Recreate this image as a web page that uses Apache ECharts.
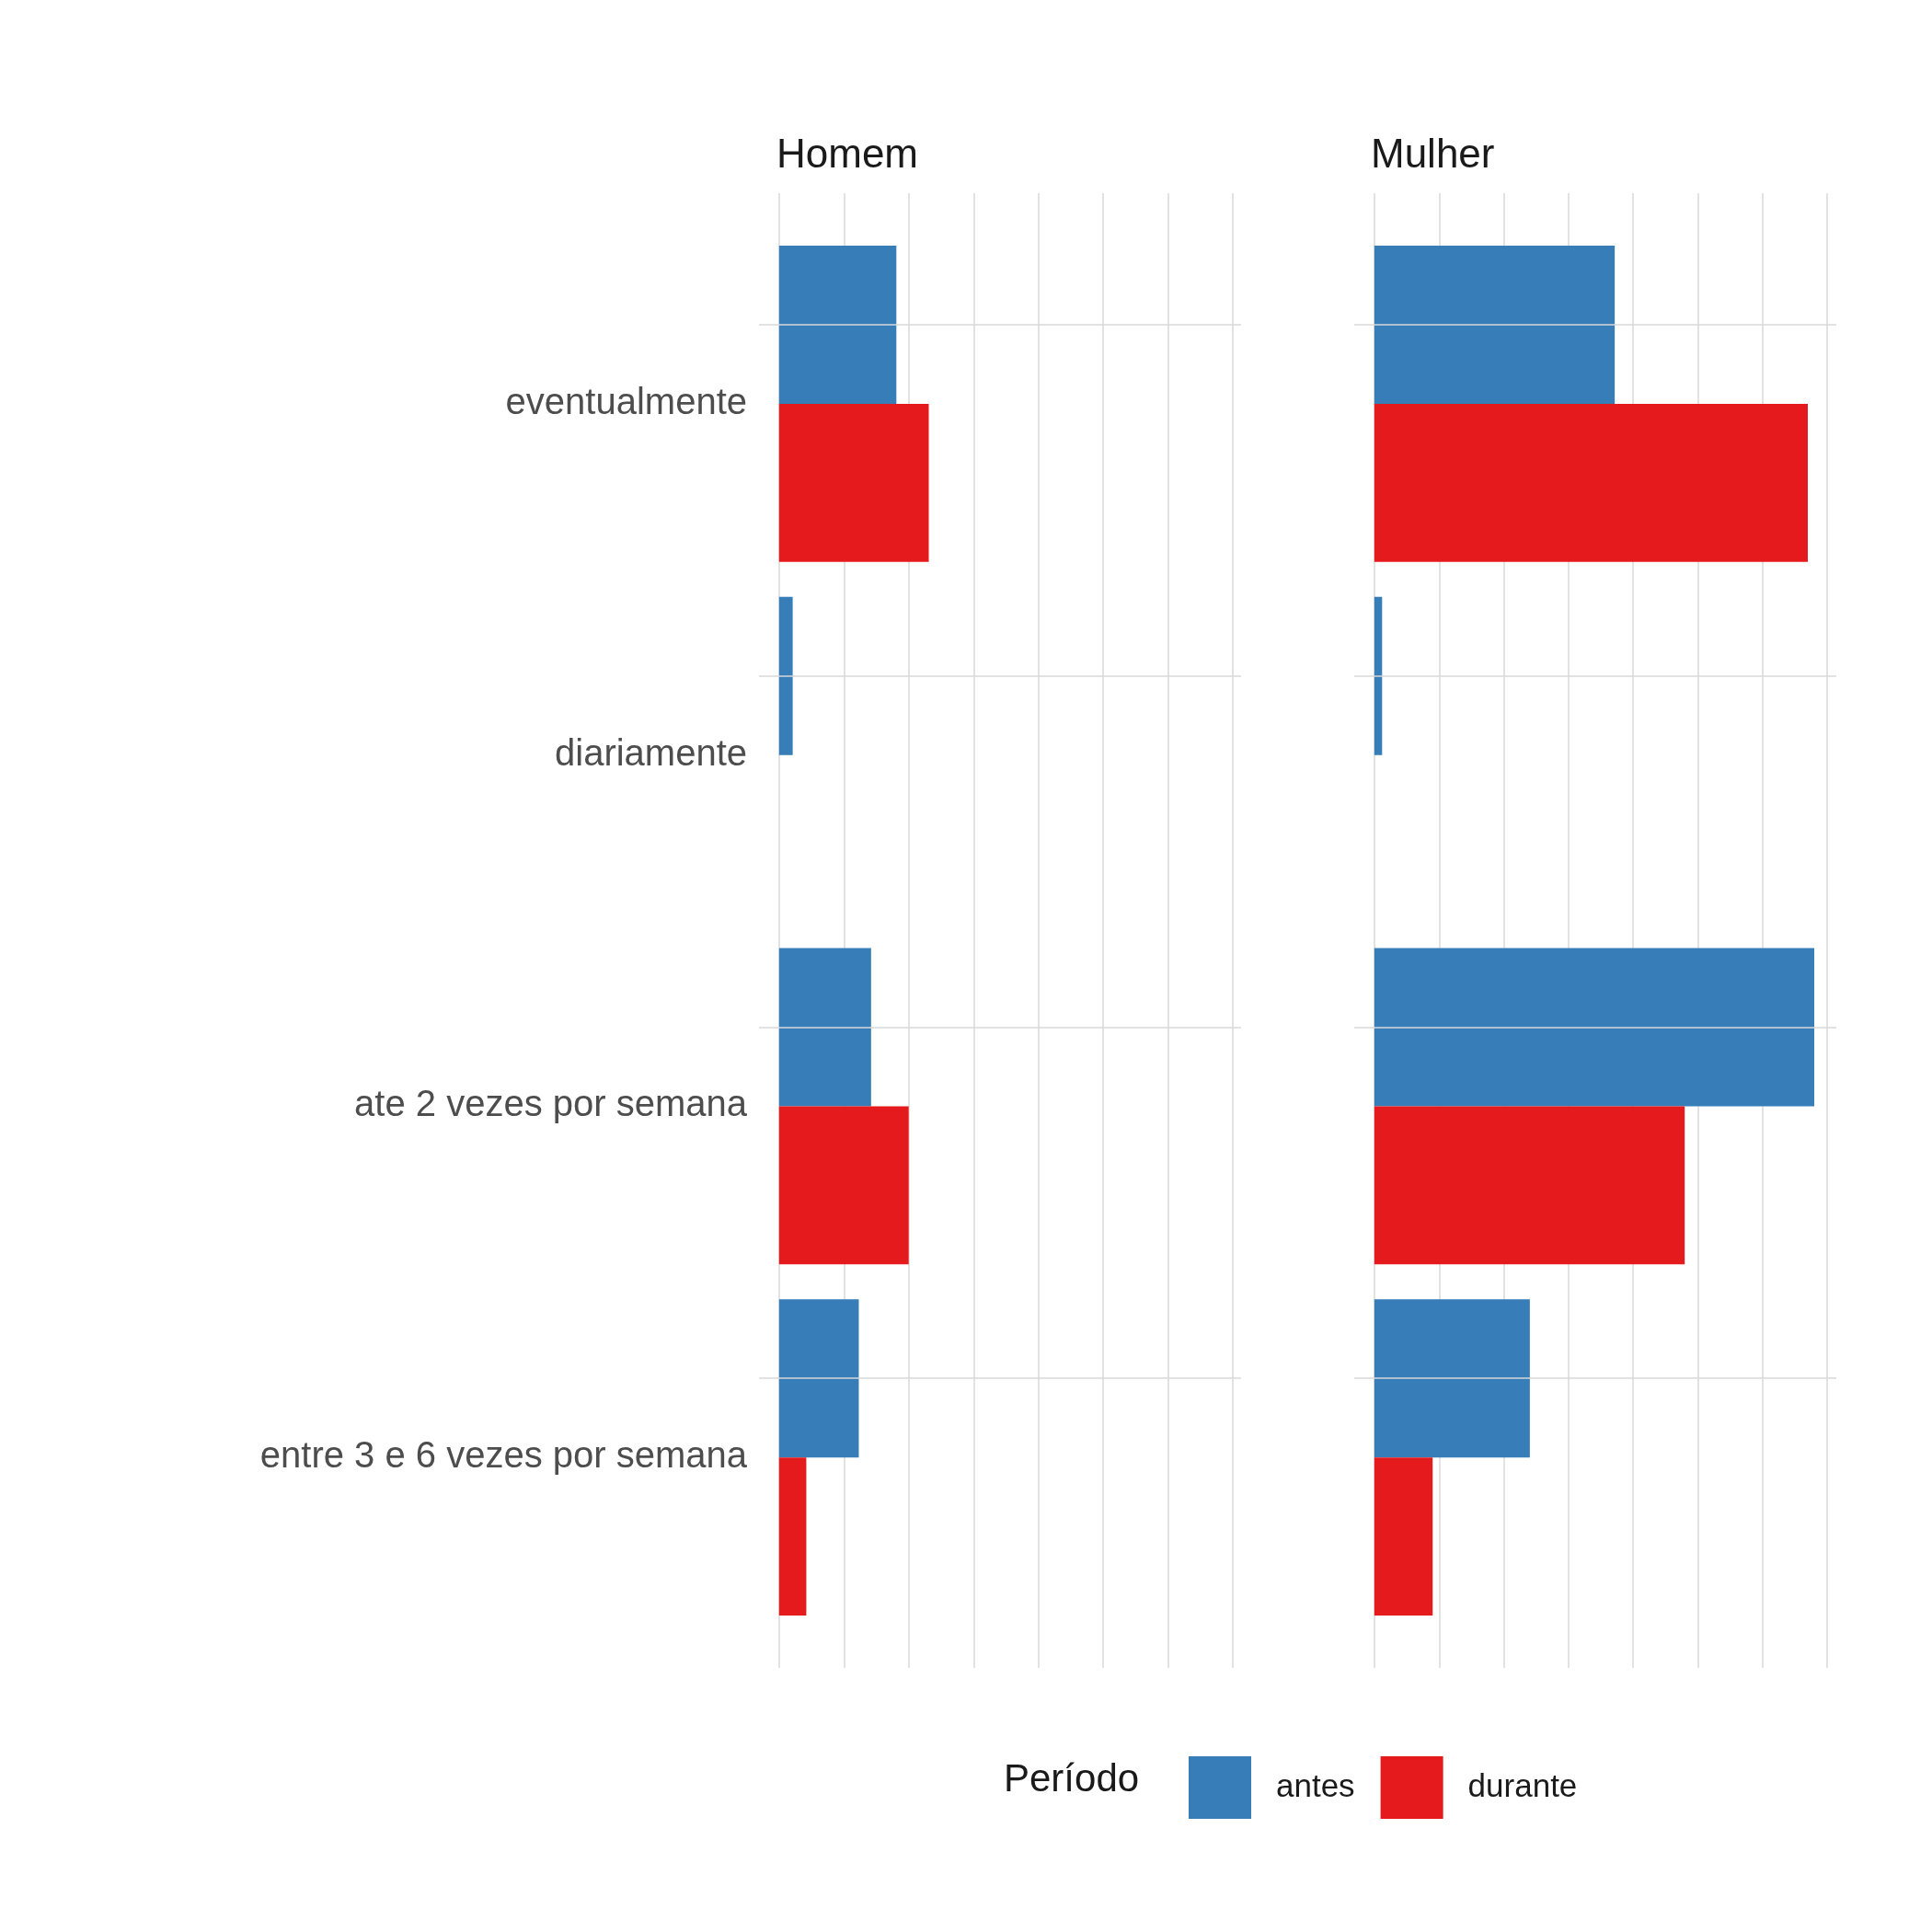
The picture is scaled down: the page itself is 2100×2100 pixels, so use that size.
<!DOCTYPE html>
<html><head><meta charset="utf-8">
<script src="https://cdn.jsdelivr.net/npm/echarts@6/dist/echarts.min.js"></script>
<style>html,body{margin:0;background:#fff}#c{width:2100px;height:2100px}</style>
</head><body><div id="c"></div>
<script>
var categories = ['eventualmente', 'diariamente', 'ate 2 vezes por semana', 'entre 3 e 6 vezes por semana'];
var panels = ['Homem', 'Mulher'];
var homemAntes = [1.81, 0.21, 1.42, 1.23];
var homemDurante = [2.31, 0, 2.0, 0.42];
var mulherAntes = [3.71, 0.12, 6.79, 2.40];
var mulherDurante = [6.69, 0, 4.79, 0.90];
var colors = ['#377eb8', '#e41a1c'];

var chart = echarts.init(document.getElementById('c'));
var font = 'Liberation Sans, Arial, sans-serif';
// panel geometry: zero position, 7 position, panel left/right
var geo = [
  { zero: 847, seven: 1340, left: 825, right: 1349 },
  { zero: 1494, seven: 1986, left: 1472, right: 1996 }
];
var grids = [], xAxes = [], yAxes = [], series = [];
geo.forEach(function (g, i) {
  // grid for vertical gridlines (full panel height)
  grids.push({ left: g.zero, width: g.seven - g.zero, top: 210, height: 1813 - 210 });
  // grid for bars
  grids.push({ left: g.left, width: g.right - g.left, top: 248, height: 1775 - 248 });
  xAxes.push({ gridIndex: 2 * i, type: 'value', min: 0, max: 7, interval: 1,
    axisLine: { show: false }, axisTick: { show: false }, axisLabel: { show: false },
    splitLine: { lineStyle: { color: '#d9d9d9', width: 1.5 } } });
  yAxes.push({ gridIndex: 2 * i, type: 'value', show: false, splitLine: { show: false } });
  xAxes.push({ gridIndex: 2 * i + 1, type: 'value', min: -0.31, max: 7.13,
    axisLine: { show: false }, axisTick: { show: false }, axisLabel: { show: false }, splitLine: { show: false } });
  yAxes.push({ gridIndex: 2 * i + 1, type: 'category', data: categories, inverse: true,
    axisLine: { show: false }, axisTick: { show: false },
    axisLabel: { show: i === 0, fontSize: 40, color: '#4d4d4d', fontFamily: font, margin: 13 },
    splitLine: { show: false } });
  var vals = i === 0 ? [homemAntes, homemDurante] : [mulherAntes, mulherDurante];
  ['antes', 'durante'].forEach(function (name, k) {
    var s = { name: name, type: 'bar', xAxisIndex: 2 * i + 1, yAxisIndex: 2 * i + 1,
      data: vals[k], barGap: '0%', barCategoryGap: '10%', itemStyle: { color: colors[k] } };
    if (k === 0) {
      s.markLine = { silent: true, symbol: 'none', label: { show: false },
        lineStyle: { color: '#d9d9d9', width: 1.5, type: 'solid' },
        data: categories.map(function (c) { return { yAxis: c }; }) };
    }
    series.push(s);
  });
});

chart.setOption({
  backgroundColor: '#fff',
  animation: false,
  grid: grids, xAxis: xAxes, yAxis: yAxes, series: series,
  legend: { data: ['antes', 'durante'], left: 1287, top: 1904, itemWidth: 68, itemHeight: 68,
    itemGap: 28, icon: 'rect',
    textStyle: { fontSize: 35, color: '#1a1a1a', fontFamily: font, padding: [0, 0, 0, 22] } },
  graphic: [
    { type: 'text', left: 844, top: 148, style: { text: panels[0], fontSize: 44, fill: '#1a1a1a', fontFamily: font } },
    { type: 'text', left: 1490, top: 148, style: { text: panels[1], fontSize: 44, fill: '#1a1a1a', fontFamily: font } },
    { type: 'text', left: 1091, top: 1914, style: { text: 'Período', fontSize: 42, fill: '#1a1a1a', fontFamily: font } }
  ]
});
</script></body></html>
